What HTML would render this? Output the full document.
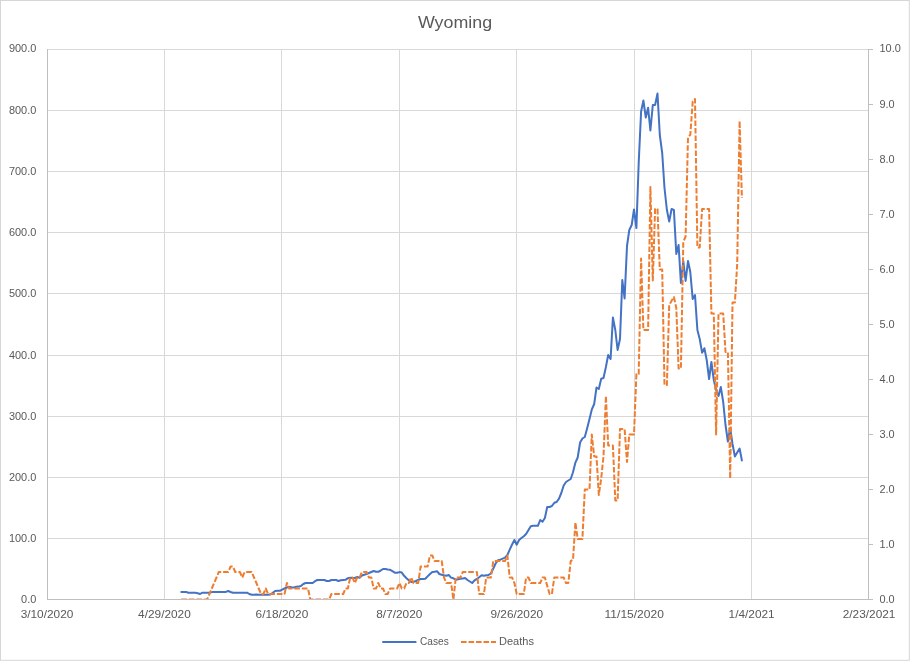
<!DOCTYPE html>
<html><head><meta charset="utf-8"><title>Wyoming</title>
<style>
html,body{margin:0;padding:0;background:#fff;}
body{width:910px;height:661px;overflow:hidden;}
svg{display:block;}
text{font-family:"Liberation Sans",sans-serif;fill:#595959;}
.ax text{font-size:11.7px;}
</style></head><body>
<svg width="910" height="661" viewBox="0 0 910 661">
<rect x="0" y="0" width="910" height="661" fill="#fff"/>
<rect x="0.5" y="0.5" width="908.8" height="659.8" fill="none" stroke="#d6d6d6" stroke-width="1"/>
<text x="417.9" y="27.5" font-size="16.7px" textLength="74.2" lengthAdjust="spacingAndGlyphs">Wyoming</text>
<g stroke="#d9d9d9" stroke-width="1" shape-rendering="crispEdges"><line x1="47" y1="49.5" x2="868" y2="49.5"/><line x1="47" y1="110.5" x2="868" y2="110.5"/><line x1="47" y1="171.5" x2="868" y2="171.5"/><line x1="47" y1="232.5" x2="868" y2="232.5"/><line x1="47" y1="293.5" x2="868" y2="293.5"/><line x1="47" y1="355.5" x2="868" y2="355.5"/><line x1="47" y1="416.5" x2="868" y2="416.5"/><line x1="47" y1="477.5" x2="868" y2="477.5"/><line x1="47" y1="538.5" x2="868" y2="538.5"/><line x1="164.5" y1="49" x2="164.5" y2="599"/><line x1="281.5" y1="49" x2="281.5" y2="599"/><line x1="399.5" y1="49" x2="399.5" y2="599"/><line x1="516.5" y1="49" x2="516.5" y2="599"/><line x1="634.5" y1="49" x2="634.5" y2="599"/><line x1="751.5" y1="49" x2="751.5" y2="599"/></g>
<g class="ax"><text x="8.93" y="52.10" textLength="27.37" lengthAdjust="spacingAndGlyphs">900.0</text><text x="8.93" y="114.10" textLength="27.37" lengthAdjust="spacingAndGlyphs">800.0</text><text x="8.93" y="175.10" textLength="27.37" lengthAdjust="spacingAndGlyphs">700.0</text><text x="8.93" y="236.10" textLength="27.37" lengthAdjust="spacingAndGlyphs">600.0</text><text x="8.93" y="297.10" textLength="27.37" lengthAdjust="spacingAndGlyphs">500.0</text><text x="8.93" y="359.10" textLength="27.37" lengthAdjust="spacingAndGlyphs">400.0</text><text x="8.93" y="420.10" textLength="27.37" lengthAdjust="spacingAndGlyphs">300.0</text><text x="8.93" y="481.10" textLength="27.37" lengthAdjust="spacingAndGlyphs">200.0</text><text x="8.93" y="542.10" textLength="27.37" lengthAdjust="spacingAndGlyphs">100.0</text><text x="21.09" y="603.10" textLength="15.21" lengthAdjust="spacingAndGlyphs">0.0</text><text x="879.50" y="52.10" textLength="21.29" lengthAdjust="spacingAndGlyphs">10.0</text><text x="879.50" y="108.10" textLength="15.21" lengthAdjust="spacingAndGlyphs">9.0</text><text x="879.50" y="163.10" textLength="15.21" lengthAdjust="spacingAndGlyphs">8.0</text><text x="879.50" y="218.10" textLength="15.21" lengthAdjust="spacingAndGlyphs">7.0</text><text x="879.50" y="273.10" textLength="15.21" lengthAdjust="spacingAndGlyphs">6.0</text><text x="879.50" y="328.10" textLength="15.21" lengthAdjust="spacingAndGlyphs">5.0</text><text x="879.50" y="383.10" textLength="15.21" lengthAdjust="spacingAndGlyphs">4.0</text><text x="879.50" y="438.10" textLength="15.21" lengthAdjust="spacingAndGlyphs">3.0</text><text x="879.50" y="493.10" textLength="15.21" lengthAdjust="spacingAndGlyphs">2.0</text><text x="879.50" y="548.10" textLength="15.21" lengthAdjust="spacingAndGlyphs">1.0</text><text x="879.50" y="603.10" textLength="15.21" lengthAdjust="spacingAndGlyphs">0.0</text><text x="20.67" y="618.20" textLength="52.67" lengthAdjust="spacingAndGlyphs">3/10/2020</text><text x="138.11" y="618.20" textLength="52.67" lengthAdjust="spacingAndGlyphs">4/29/2020</text><text x="255.55" y="618.20" textLength="52.67" lengthAdjust="spacingAndGlyphs">6/18/2020</text><text x="376.28" y="618.20" textLength="46.08" lengthAdjust="spacingAndGlyphs">8/7/2020</text><text x="490.43" y="618.20" textLength="52.67" lengthAdjust="spacingAndGlyphs">9/26/2020</text><text x="604.58" y="618.20" textLength="59.25" lengthAdjust="spacingAndGlyphs">11/15/2020</text><text x="728.60" y="618.20" textLength="46.08" lengthAdjust="spacingAndGlyphs">1/4/2021</text><text x="842.75" y="618.20" textLength="52.67" lengthAdjust="spacingAndGlyphs">2/23/2021</text></g>
<defs><clipPath id="pc"><rect x="47" y="49" width="822" height="550.5"/></clipPath></defs>
<g clip-path="url(#pc)">
<polyline fill="none" stroke="#4472c4" stroke-width="2" stroke-linejoin="round" stroke-linecap="round" points="181.3,592.0 183.7,591.9 186.0,591.9 188.3,592.8 190.7,592.8 193.0,592.8 195.4,592.8 197.7,593.2 200.1,594.0 202.4,592.7 204.8,592.7 207.1,592.7 209.5,592.7 211.8,592.1 214.1,591.9 216.5,591.9 218.8,591.9 221.2,591.9 223.5,591.9 225.9,591.9 228.2,591.0 230.6,592.0 232.9,592.7 235.3,592.7 237.6,592.7 239.9,592.7 242.3,592.7 244.6,592.7 247.0,592.7 249.3,594.0 251.7,594.8 254.0,594.8 256.4,594.4 258.7,594.8 261.1,594.8 263.4,594.8 265.8,594.8 268.1,594.8 270.4,594.5 272.8,592.8 275.1,591.0 277.5,590.8 279.8,590.8 282.2,589.7 284.5,588.5 286.9,587.5 289.2,586.8 291.6,587.2 293.9,587.5 296.2,586.8 298.6,586.6 300.9,586.0 303.3,584.0 305.6,583.0 308.0,583.0 310.3,583.0 312.7,583.0 315.0,581.2 317.4,580.0 319.7,580.0 322.0,580.0 324.4,580.0 326.7,581.0 329.1,581.0 331.4,580.0 333.8,580.0 336.1,580.0 338.5,581.0 340.8,580.3 343.2,580.0 345.5,579.8 347.9,578.2 350.2,577.8 352.5,578.0 354.9,578.0 357.2,577.0 359.6,577.7 361.9,575.5 364.3,574.7 366.6,574.0 369.0,573.0 371.3,572.0 373.7,571.0 376.0,571.8 378.3,571.8 380.7,570.5 383.0,569.0 385.4,569.1 387.7,569.6 390.1,569.8 392.4,571.2 394.8,572.7 397.1,572.8 399.5,572.1 401.8,572.6 404.1,575.8 406.5,578.2 408.8,580.2 411.2,582.0 413.5,581.9 415.9,581.0 418.2,579.8 420.6,579.0 422.9,579.0 425.3,578.8 427.6,576.4 430.0,574.0 432.3,572.0 434.6,571.8 437.0,571.2 439.3,574.0 441.7,574.7 444.0,575.3 446.4,575.7 448.7,575.0 451.1,577.6 453.4,578.3 455.8,579.7 458.1,579.3 460.4,578.8 462.8,578.4 465.1,578.0 467.5,580.0 469.8,581.5 472.2,583.0 474.5,580.3 476.9,579.0 479.2,577.2 481.6,575.2 483.9,575.7 486.2,575.2 488.6,574.9 490.9,573.5 493.3,568.5 495.6,563.5 498.0,560.3 500.3,559.7 502.7,558.7 505.0,557.7 507.4,555.0 509.7,549.7 512.1,544.5 514.4,540.0 516.7,544.7 519.1,540.0 521.4,538.0 523.8,536.2 526.1,534.0 528.5,530.0 530.8,526.2 533.2,525.8 535.5,525.8 537.9,525.8 540.2,520.0 542.5,521.8 544.9,518.0 547.2,507.0 549.6,507.0 551.9,506.0 554.3,502.8 556.6,502.0 559.0,498.6 561.3,493.0 563.7,485.5 566.0,482.0 568.3,480.5 570.7,479.0 573.0,472.3 575.4,462.6 577.7,457.5 580.1,442.5 582.4,438.5 584.8,437.0 587.1,428.5 589.5,419.0 591.8,409.5 594.2,404.0 596.5,387.5 598.8,389.0 601.2,378.8 603.5,378.0 605.9,367.0 608.2,355.0 610.6,359.0 612.9,317.5 615.3,330.0 617.6,350.0 620.0,339.0 622.3,280.0 624.6,298.5 627.0,246.0 629.3,230.0 631.7,225.0 634.0,209.5 636.4,228.0 638.7,163.0 641.1,111.5 643.4,100.5 645.8,117.5 648.1,107.8 650.4,130.5 652.8,105.0 655.1,105.0 657.5,93.5 659.8,135.0 662.2,153.0 664.5,188.0 666.9,210.0 669.2,221.5 671.6,209.0 673.9,210.0 676.3,254.0 678.6,245.0 680.9,283.0 683.3,261.0 685.6,281.0 688.0,261.0 690.3,272.0 692.7,299.0 695.0,295.0 697.4,330.0 699.7,339.0 702.1,352.7 704.4,348.2 706.7,360.0 709.1,379.0 711.4,362.0 713.8,380.0 716.1,390.0 718.5,396.0 720.8,387.0 723.2,402.0 725.5,425.0 727.9,441.5 730.2,428.0 732.5,444.0 734.9,456.5 737.2,452.5 739.6,448.5 741.9,460.5"/>
<polyline fill="none" stroke="#ed7d31" stroke-width="2" stroke-linejoin="round" stroke-dasharray="5.6 1.9" points="181.3,599.50 183.7,599.50 186.0,599.50 188.3,599.50 190.7,599.50 193.0,599.50 195.4,599.50 197.7,599.50 200.1,599.50 202.4,599.50 204.8,599.50 207.1,599.50 209.5,594.00 211.8,588.50 214.1,583.00 216.5,577.50 218.8,572.00 221.2,572.00 223.5,572.00 225.9,572.00 228.2,572.00 230.6,566.50 232.9,566.50 235.3,572.00 237.6,572.00 239.9,572.00 242.3,577.50 244.6,572.00 247.0,572.00 249.3,572.00 251.7,572.00 254.0,577.50 256.4,583.00 258.7,588.50 261.1,594.00 263.4,594.00 265.8,588.50 268.1,594.00 270.4,594.00 272.8,594.00 275.1,594.00 277.5,594.00 279.8,594.00 282.2,594.00 284.5,594.00 286.9,583.00 289.2,588.50 291.6,588.50 293.9,588.50 296.2,588.50 298.6,588.50 300.9,588.50 303.3,588.50 305.6,588.50 308.0,588.50 310.3,599.50 312.7,599.50 315.0,599.50 317.4,599.50 319.7,599.50 322.0,599.50 324.4,599.50 326.7,599.50 329.1,599.50 331.4,594.00 333.8,594.00 336.1,594.00 338.5,594.00 340.8,594.00 343.2,594.00 345.5,588.50 347.9,588.50 350.2,577.50 352.5,577.50 354.9,583.00 357.2,577.50 359.6,577.50 361.9,572.00 364.3,572.00 366.6,572.00 369.0,577.50 371.3,577.50 373.7,588.50 376.0,588.50 378.3,583.00 380.7,588.50 383.0,588.50 385.4,594.00 387.7,594.00 390.1,588.50 392.4,588.50 394.8,588.50 397.1,588.50 399.5,583.00 401.8,588.50 404.1,588.50 406.5,583.00 408.8,583.00 411.2,577.50 413.5,583.00 415.9,583.00 418.2,583.00 420.6,566.50 422.9,566.50 425.3,566.50 427.6,566.50 430.0,555.50 432.3,555.50 434.6,561.00 437.0,561.00 439.3,561.00 441.7,561.00 444.0,577.50 446.4,583.00 448.7,583.00 451.1,583.00 453.4,599.50 455.8,577.50 458.1,577.50 460.4,577.50 462.8,572.00 465.1,572.00 467.5,572.00 469.8,572.00 472.2,572.00 474.5,572.00 476.9,572.00 479.2,594.00 481.6,594.00 483.9,594.00 486.2,577.50 488.6,577.50 490.9,577.50 493.3,561.00 495.6,561.00 498.0,561.00 500.3,561.00 502.7,561.00 505.0,561.00 507.4,555.50 509.7,577.50 512.1,577.50 514.4,583.00 516.7,594.00 519.1,594.00 521.4,594.00 523.8,594.00 526.1,577.50 528.5,577.50 530.8,583.00 533.2,583.00 535.5,583.00 537.9,583.00 540.2,583.00 542.5,577.50 544.9,577.50 547.2,585.75 549.6,594.00 551.9,594.00 554.3,577.50 556.6,577.50 559.0,577.50 561.3,577.50 563.7,577.50 566.0,583.00 568.3,583.00 570.7,561.00 573.0,559.90 575.4,522.50 577.7,539.00 580.1,539.00 582.4,539.00 584.8,489.50 587.1,489.50 589.5,489.50 591.8,434.50 594.2,456.50 596.5,456.50 598.8,495.00 601.2,478.50 603.5,456.50 605.9,396.00 608.2,445.50 610.6,445.50 612.9,445.50 615.3,500.50 617.6,500.50 620.0,429.00 622.3,429.00 624.6,429.00 627.0,462.00 629.3,434.50 631.7,434.50 634.0,434.50 636.4,374.00 638.7,374.00 641.1,258.50 643.4,330.00 645.8,330.00 648.1,330.00 650.4,187.00 652.8,280.50 655.1,209.00 657.5,209.00 659.8,269.50 662.2,269.50 664.5,385.00 666.9,385.00 669.2,305.25 671.6,300.85 673.9,297.00 676.3,308.00 678.6,368.50 680.9,368.50 683.3,242.00 685.6,236.50 688.0,137.50 690.3,134.75 692.7,101.75 695.0,99.00 697.4,247.50 699.7,247.50 702.1,209.00 704.4,209.00 706.7,209.00 709.1,209.00 711.4,313.50 713.8,313.50 716.1,434.50 718.5,313.50 720.8,313.50 723.2,313.50 725.5,352.00 727.9,352.00 730.2,478.50 732.5,302.50 734.9,302.50 737.2,264.00 739.6,121.00 741.9,198.00"/>
</g>
<g stroke="#bfbfbf" stroke-width="1" shape-rendering="crispEdges">
<line x1="47.5" y1="49" x2="47.5" y2="600"/><line x1="47" y1="599.5" x2="873" y2="599.5"/>
<line x1="868.5" y1="49" x2="868.5" y2="600"/><line x1="868" y1="49.5" x2="873" y2="49.5"/><line x1="868" y1="104.5" x2="873" y2="104.5"/><line x1="868" y1="159.5" x2="873" y2="159.5"/><line x1="868" y1="214.5" x2="873" y2="214.5"/><line x1="868" y1="269.5" x2="873" y2="269.5"/><line x1="868" y1="324.5" x2="873" y2="324.5"/><line x1="868" y1="379.5" x2="873" y2="379.5"/><line x1="868" y1="434.5" x2="873" y2="434.5"/><line x1="868" y1="489.5" x2="873" y2="489.5"/><line x1="868" y1="544.5" x2="873" y2="544.5"/><line x1="868" y1="599.5" x2="873" y2="599.5"/></g>
<line x1="383" y1="642" x2="415.6" y2="642" stroke="#4472c4" stroke-width="2" stroke-linecap="round"/>
<text x="420.0" y="645.3" font-size="11.7px" textLength="28.7" lengthAdjust="spacingAndGlyphs">Cases</text>
<line x1="461" y1="642" x2="496" y2="642" stroke="#ed7d31" stroke-width="2" stroke-dasharray="5.6 1.9"/>
<text x="499.0" y="645.3" font-size="11.7px" textLength="35.0" lengthAdjust="spacingAndGlyphs">Deaths</text>
</svg>
</body></html>
